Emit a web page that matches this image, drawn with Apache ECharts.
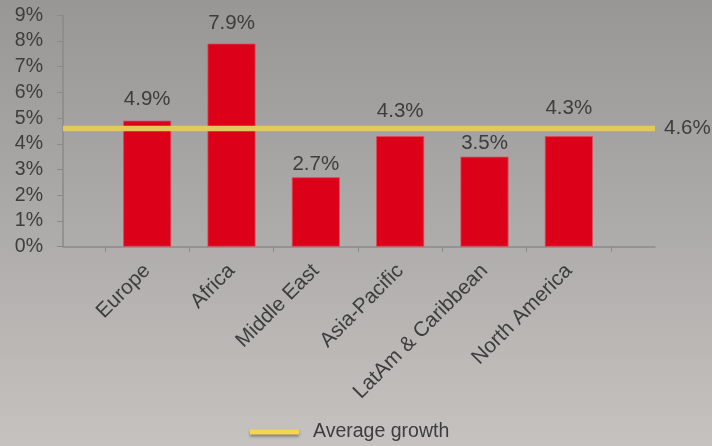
<!DOCTYPE html>
<html>
<head>
<meta charset="utf-8">
<script src="https://cdn.jsdelivr.net/npm/echarts@6/dist/echarts.min.js"></script>
<style>
html,body{margin:0;padding:0;}
#chart{width:712px;height:446px;}
</style>
</head>
<body>
<div id="chart"></div>
<script>
var categories = ['Europe', 'Africa', 'Middle East', 'Asia-Pacific', 'LatAm & Caribbean', 'North America'];
var growth = [4.9, 7.9, 2.7, 4.3, 3.5, 4.3];
var averageGrowth = 4.6;
var yTicks = [0, 1, 2, 3, 4, 5, 6, 7, 8, 9];

// label placement (style only): gap between bar top and its value label
var labelGaps = [10.5, 10, 2.5, 14, 3, 17];

var FONT = '"Liberation Sans", Arial, sans-serif';
var TXT = '#3d3d3d';
var AXIS = '#8a8a8a';

var barData = growth.map(function (v, i) {
  return {value: v, label: {distance: labelGaps[i]}};
});

var chart = echarts.init(document.getElementById('chart'), null, {renderer: 'canvas'});
var option = {
  animation: false,
  backgroundColor: {
    type: 'linear', x: 0, y: 0, x2: 0, y2: 1,
    colorStops: [
      {offset: 0, color: '#989796'},
      {offset: 0.5, color: '#adaba9'},
      {offset: 1, color: '#c5c2bf'}
    ]
  },
  textStyle: {fontFamily: FONT},
  legend: {
    left: 245,
    top: 417,
    itemWidth: 49,
    itemHeight: 5,
    icon: 'rect',
    data: [{
      name: 'Average growth',
      itemStyle: {color: '#F5D651', shadowColor: 'rgba(0,0,0,0.35)', shadowBlur: 3, shadowOffsetY: 2}
    }],
    textStyle: {fontFamily: FONT, fontSize: 19.5, color: TXT, padding: [0, 0, 0, 9]}
  },
  grid: [
    {left: 105, right: 101, top: 15.3, height: 231.4},
    {left: 63, right: 57, top: 15.3, height: 231.4}
  ],
  xAxis: [
    {
      type: 'category', gridIndex: 0, data: categories, boundaryGap: true,
      axisLine: {show: false},
      axisTick: {show: true, length: 5, lineStyle: {color: AXIS}},
      axisLabel: {rotate: 45, fontSize: 20.7, color: TXT, fontFamily: FONT, margin: 21, interval: 0}
    },
    {
      type: 'value', gridIndex: 1, min: 0, max: 1,
      axisLine: {show: true, lineStyle: {color: AXIS, width: 1.5}},
      axisTick: {show: false}, axisLabel: {show: false}, splitLine: {show: false}
    }
  ],
  yAxis: [
    {
      type: 'value', gridIndex: 0, min: 0, max: 9, interval: 1,
      axisLine: {show: false}, axisTick: {show: false}, axisLabel: {show: false}, splitLine: {show: false}
    },
    {
      type: 'value', gridIndex: 1, min: 0, max: 9, interval: 1,
      axisLine: {show: true, lineStyle: {color: AXIS, width: 1.5}},
      axisTick: {show: true, length: 6, lineStyle: {color: AXIS}},
      axisLabel: {formatter: '{value}%', fontSize: 19.5, color: TXT, fontFamily: FONT, margin: 20},
      splitLine: {show: false}
    }
  ],
  series: [
    {
      type: 'bar', xAxisIndex: 0, yAxisIndex: 0, data: barData, barWidth: 48,
      itemStyle: {color: '#DC0019', borderColor: '#e2495a', borderWidth: 0.8},
      label: {show: true, position: 'top', formatter: function (p) { return p.value.toFixed(1) + '%'; },
              fontSize: 20.5, color: TXT, fontFamily: FONT}
    },
    {
      name: 'Average growth',
      type: 'line', xAxisIndex: 1, yAxisIndex: 1,
      data: [[0, averageGrowth], [1, averageGrowth]],
      symbol: 'none', z: 5,
      lineStyle: {color: '#E5C85C', width: 5.5},
      itemStyle: {color: '#F5D651'},
      endLabel: {show: true, formatter: function () { return averageGrowth.toFixed(1) + '%'; },
                 fontSize: 20.5, color: TXT, fontFamily: FONT, distance: 9}
    }
  ]
};
chart.setOption(option);
</script>
</body>
</html>
